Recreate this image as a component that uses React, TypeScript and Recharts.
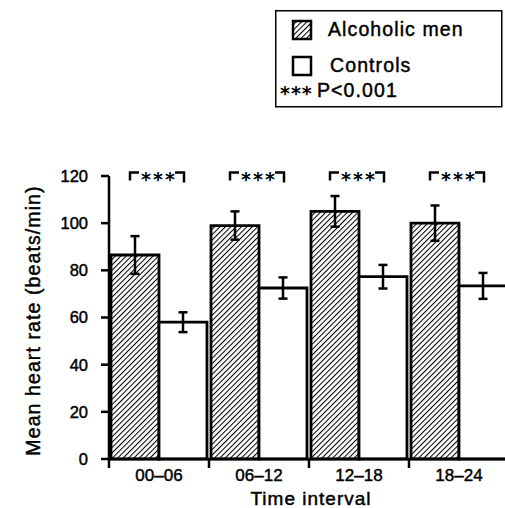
import React from 'react';
import { BarChart, Bar, XAxis, YAxis, ErrorBar, LabelList, Legend, Label } from 'recharts';

// time intervals (hours) and mean heart rate, beats/min (mean ± SE)
const intervals = ['00–06', '06–12', '12–18', '18–24'];
const alcoholicMean = [86.5, 99, 105, 100];
const alcoholicErr = [8, 6, 6.5, 7.5];
const controlMean = [58, 72.5, 77.3, 73.4];
const controlErr = [4.2, 4.5, 5, 5.5];
const yTicks = [0, 20, 40, 60, 80, 100, 120];
const significance = ['***', '***', '***', '***'];

const data = intervals.map((interval, i) => ({
  interval,
  alcoholic: alcoholicMean[i],
  alcoholicErr: alcoholicErr[i],
  controls: controlMean[i],
  controlsErr: controlErr[i],
}));

const W = 520;
const H = 508;
const MARGIN = { top: 176, right: 11, bottom: 0, left: 0 };
const Y_AXIS_W = 109;
const X_AXIS_H = 49;
const PLOT_W = W - MARGIN.left - MARGIN.right - Y_AXIS_W;
const BAND = PLOT_W / intervals.length;
const BRACKET_AT = 121.5; // value level of the significance brackets

const FONT = '"Liberation Sans", Arial, Helvetica, sans-serif';
const STAR_FONT = '"DejaVu Sans", sans-serif';
// the scanned lettering is heavier than plain regular weight
const INK = { fill: '#000', stroke: '#000', strokeWidth: 0.45 };

function HatchDefs({ id }: { id: string }) {
  return (
    <defs>
      <pattern id={id} patternUnits="userSpaceOnUse" width={3.8} height={3.8} patternTransform="rotate(45)">
        <rect width={3.8} height={3.8} fill="#fff" />
        <line x1={0} y1={0} x2={0} y2={3.8} stroke="#000" strokeWidth={2.1} />
      </pattern>
    </defs>
  );
}

function IntervalTick(props: any) {
  const { x, y, payload } = props;
  return (
    <g>
      <line x1={x - BAND / 2} x2={x - BAND / 2} y1={y} y2={y + 9} stroke="#000" strokeWidth={2.5} />
      <text x={x} y={y + 22} textAnchor="middle" fontSize={17} {...INK}>
        {payload.value}
      </text>
    </g>
  );
}

function Bracket(props: any) {
  const vb = props.viewBox ?? props;
  const { x, y, width } = vb;
  const height = Math.abs(vb.height);
  const value = alcoholicMean[props.index] ?? props.value;
  const base = y + height;
  const scale = height / value;
  const ly = base - BRACKET_AT * scale;
  const left = x + width / 2 - 5;
  const right = x + width * 1.5 + 1;
  const mid = (left + right) / 2;
  const half = 18;
  return (
    <g>
      <g stroke="#000" strokeWidth={2.5} fill="none">
        <polyline points={`${left},${ly + 8} ${left},${ly} ${mid - half},${ly}`} />
        <polyline points={`${mid + half},${ly} ${right},${ly} ${right},${ly + 10}`} />
      </g>
      <text
        x={mid + 2}
        y={ly + 14}
        textAnchor="middle"
        fontSize={19}
        fontWeight="bold"
        letterSpacing={2}
        fontFamily={STAR_FONT}
        fill="#000"
      >
        {significance[props.index]}
      </text>
    </g>
  );
}

function LegendBox() {
  return (
    <svg width={228} height={98} style={{ display: 'block', fontFamily: FONT }}>
      <HatchDefs id="hatch-legend" />
      <rect x={0.75} y={0.75} width={226} height={96} fill="#fff" stroke="#000" strokeWidth={1.5} />
      <rect x={18} y={11} width={18} height={18} fill="url(#hatch-legend)" stroke="#000" strokeWidth={2.5} />
      <text x={53} y={26} fontSize={19.5} letterSpacing={1.1} {...INK}>
        Alcoholic men
      </text>
      <rect x={18} y={47} width={18} height={18} fill="#fff" stroke="#000" strokeWidth={2.5} />
      <text x={55} y={62} fontSize={19.5} letterSpacing={1.1} {...INK}>
        Controls
      </text>
      <text x={5} y={90} fontSize={19} fontWeight="bold" letterSpacing={1} fontFamily={STAR_FONT} fill="#000">
        ***
      </text>
      <text x={42} y={87} fontSize={19.5} letterSpacing={1.1} {...INK}>
        P&lt;0.001
      </text>
    </svg>
  );
}

function YTitle(props: any) {
  const vb = props.viewBox;
  const cx = 40;
  const cy = vb.y + vb.height / 2 + 3;
  return (
    <text
      x={cx}
      y={cy}
      transform={`rotate(-90, ${cx}, ${cy})`}
      textAnchor="middle"
      fontSize={19.5}
      letterSpacing={1.1}
      {...INK}
    >
      Mean heart rate (beats/min)
    </text>
  );
}

function XTitle(props: any) {
  const vb = props.viewBox;
  return (
    <text x={vb.x + vb.width / 2 + 2} y={505} textAnchor="middle" fontSize={19} letterSpacing={1} {...INK}>
      Time interval
    </text>
  );
}

export default function App() {
  return (
    <div
      style={{
        position: 'absolute',
        left: 0,
        top: 0,
        width: 505,
        height: H,
        overflow: 'hidden',
        background: '#fff',
        fontFamily: FONT,
      }}
    >
      <BarChart width={W} height={H} data={data} margin={MARGIN} barCategoryGap={2} barGap={0}>
        <HatchDefs id="hatch" />
        <XAxis
          dataKey="interval"
          height={X_AXIS_H}
          axisLine={{ stroke: '#000', strokeWidth: 2.5 }}
          tickLine={false}
          tickSize={0}
          tickMargin={0}
          tick={<IntervalTick />}
          interval={0}
        >
          <Label content={<XTitle />} />
        </XAxis>
        <YAxis
          width={Y_AXIS_W}
          domain={[0, 120]}
          ticks={yTicks}
          interval={0}
          axisLine={{ stroke: '#000', strokeWidth: 2.5 }}
          tickLine={{ stroke: '#000', strokeWidth: 2.5 }}
          tickSize={8}
          tickMargin={13}
          tick={{ ...INK, fontSize: 16.5 }}
        >
          <Label content={<YTitle />} />
        </YAxis>
        <Legend
          verticalAlign="middle"
          align="center"
          content={() => <LegendBox />}
          wrapperStyle={{ position: 'absolute', left: 275, top: 10, width: 228, height: 98 }}
        />
        <Bar dataKey="alcoholic" fill="url(#hatch)" stroke="#000" strokeWidth={2.8} isAnimationActive={false}>
          <ErrorBar dataKey="alcoholicErr" width={4.5} stroke="#000" strokeWidth={2.5} />
          <LabelList dataKey="alcoholic" content={<Bracket />} />
        </Bar>
        <Bar dataKey="controls" fill="#fff" stroke="#000" strokeWidth={2.8} isAnimationActive={false}>
          <ErrorBar dataKey="controlsErr" width={4.5} stroke="#000" strokeWidth={2.5} />
        </Bar>
      </BarChart>
    </div>
  );
}
